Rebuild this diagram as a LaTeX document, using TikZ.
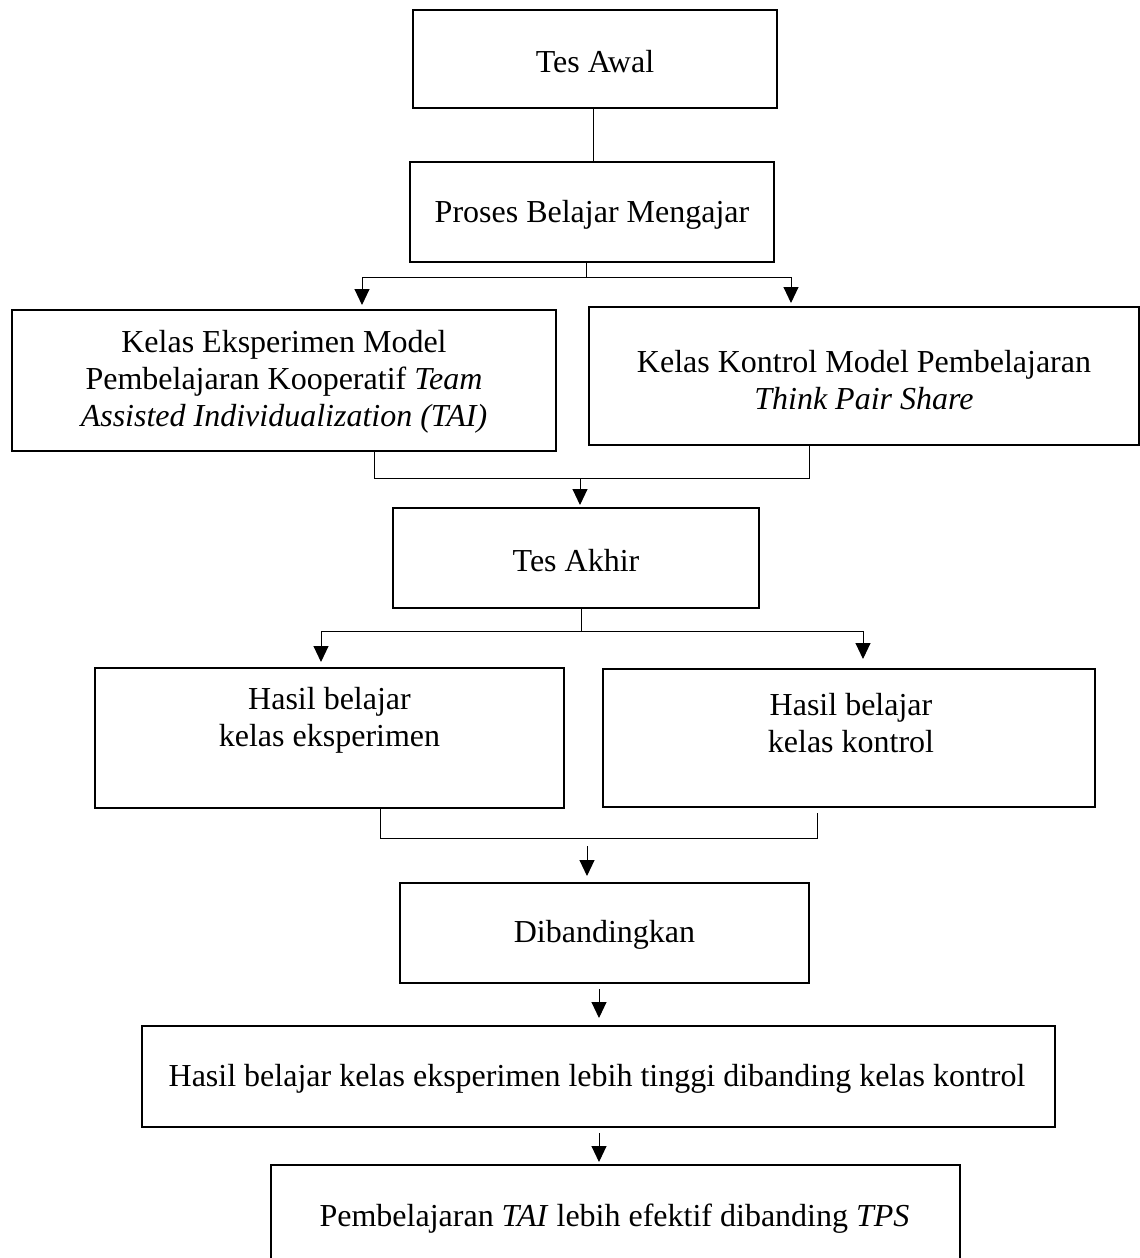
\documentclass[tikz,border=0pt]{standalone}
\usepackage{fontspec}
\setmainfont{Liberation Serif}
\usetikzlibrary{arrows.meta}
\begin{document}
\begin{tikzpicture}[x=0.5pt,y=-0.5pt,
  box/.style={draw=black, line width=1pt, rectangle, inner sep=0pt},
  txt/.style={inner sep=0pt, align=center, font=\fontsize{16}{18.5}\selectfont},
  conn/.style={draw=black, line width=0.5pt},
  arr/.style={conn, -{Triangle[width=7.5pt,length=8pt]}}]
\useasboundingbox (0,0) rectangle (1140,1258);
\begin{scope}
\clip (0,0) rectangle (1140,1258);
% boxes
\node[box, minimum width=182pt, minimum height=49pt] (ta) at (595,59) {};
\node[txt] (tat) at (595,62) {Tes Awal};
\node[box, minimum width=182pt, minimum height=50pt] (pb) at (592,212) {};
\node[txt] (pbt) at (592,215) {Proses Belajar Mengajar};
\node[box, minimum width=272pt, minimum height=70.5pt] (ke) at (284,380.5) {};
\node[txt] (ket) at (284,382) {Kelas Eksperimen Model\\Pembelajaran Kooperatif \textit{Team}\\\textit{Assisted Individualization (TAI)}};
\node[box, minimum width=275pt, minimum height=69pt] (kk) at (864,376) {};
\node[txt] (kkt) at (864,380) {Kelas Kontrol Model Pembelajaran\\\textit{Think Pair Share}};
\node[box, minimum width=183pt, minimum height=50pt] (tak) at (576,558) {};
\node[txt] (takt) at (576,561) {Tes Akhir};
\node[box, minimum width=234.5pt, minimum height=70pt] (hl) at (329.5,738) {};
\node[txt] (hlt) at (329.5,720) {Hasil belajar\\kelas eksperimen};
\node[box, minimum width=246pt, minimum height=69pt] (hr) at (849,738) {};
\node[txt] (hrt) at (851,723) {Hasil belajar\\kelas kontrol};
\node[box, minimum width=204.5pt, minimum height=50pt] (dib) at (604.5,933) {};
\node[txt] (dibt) at (604.5,935) {Dibandingkan};
\node[box, minimum width=456.5pt, minimum height=50.5pt] (hlong) at (598.5,1076.5) {};
\node[txt] (hlongt) at (597,1079) {Hasil belajar kelas eksperimen lebih tinggi dibanding kelas kontrol};
\node[box, minimum width=344.5pt, minimum height=52.5pt] (pemb) at (615.5,1217.5) {};
\node[txt] (pembt) at (614.5,1219) {Pembelajaran \textit{TAI} lebih efektif dibanding \textit{TPS}};
\end{scope}
% connectors
\coordinate (c1) at (593,0);
\draw[conn] (ta.south -| c1) -- (pb.north -| c1);
\coordinate (j1) at (586,277);
\coordinate (a1) at (362,277);
\coordinate (a2) at (791,277);
\draw[conn] (pb.south -| j1) -- (j1);
\draw[conn] (a1) -- (a2);
\draw[arr] (a1) -- ([yshift=2pt]a1 |- ke.north);
\draw[arr] (a2) -- ([yshift=1.5pt]a2 |- kk.north);
\coordinate (b1) at (374,478);
\coordinate (b2) at (809,478);
\coordinate (b3) at (580,478);
\draw[conn] (ke.south -| b1) -- (b1) -- (b2) -- (kk.south -| b2);
\draw[arr] (b3) -- ([yshift=1pt]b3 |- tak.north);
\coordinate (d1) at (581,631);
\coordinate (d2) at (321,631);
\coordinate (d3) at (863,631);
\draw[conn] (tak.south -| d1) -- (d1);
\draw[conn] (d2) -- (d3);
\draw[arr] (d2) -- ([yshift=2.5pt]d2 |- hl.north);
\draw[arr] (d3) -- ([yshift=4.5pt]d3 |- hr.north);
\coordinate (e1) at (380,838);
\coordinate (e2) at (817,838);
\draw[conn] (hl.south -| e1) -- (e1) -- (e2) -- ([yshift=-2.5pt]hr.south -| e2);
\coordinate (f1) at (587,846);
\draw[arr] (f1) -- ([yshift=3pt]f1 |- dib.north);
\coordinate (g1) at (599,0);
\draw[arr] ([yshift=-2.5pt]dib.south -| g1) -- ([yshift=3.5pt]hlong.north -| g1);
\draw[arr] ([yshift=-2.5pt]hlong.south -| g1) -- ([yshift=1pt]pemb.north -| g1);
\end{tikzpicture}
\end{document}
